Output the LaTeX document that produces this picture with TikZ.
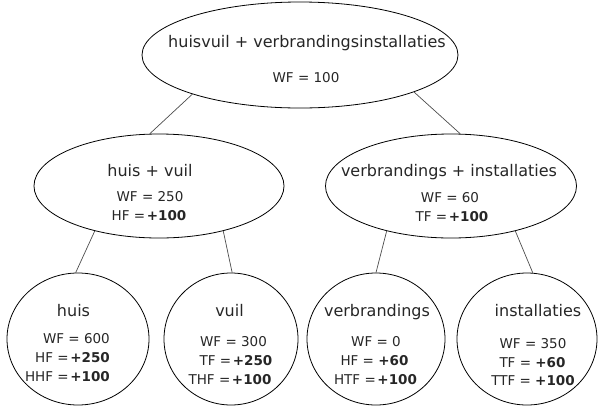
\documentclass[tikz,border=0pt]{standalone}
\usepackage{fontspec}
\setmainfont{DejaVu Sans}
\usetikzlibrary{shapes.geometric}
\newcommand{\eqp}{=\hspace{0.12em}}
\tikzset{
  oval/.style={draw=black, line width=0.8pt, ellipse, inner sep=0pt},
  edge/.style={draw=black!70, line width=0.7pt},
  ttl/.style={anchor=base, inner sep=0pt, font=\fontsize{16}{18}\selectfont, text=black!85},
  val/.style={anchor=base, inner sep=0pt, font=\fontsize{13.5}{15}\selectfont, text=black!85},
}
\begin{document}
\begin{tikzpicture}[x=1pt, y=-1pt]
\path[use as bounding box] (0,0) rectangle (598,408);
% shapes
\node[oval, minimum width=316pt, minimum height=106pt] (top) at (300,55) {};
\node[oval, minimum width=250pt, minimum height=104pt] (ml) at (159,186) {};
\node[oval, minimum width=251pt, minimum height=104pt] (mr) at (451,186) {};
\node[oval, minimum width=142pt, minimum height=132pt] (huis) at (78,339) {};
\node[oval, minimum width=134pt, minimum height=132pt] (vuil) at (231,339) {};
\node[oval, minimum width=138pt, minimum height=132pt] (verb) at (376,339) {};
\node[oval, minimum width=140pt, minimum height=132pt] (inst) at (527,339) {};
% connectors
\draw[edge] (top.200) -- (ml.100);
\draw[edge] (top.342) -- (mr.80);
\draw[edge] (ml.215) -- (huis.92);
\draw[edge] (ml.325) -- (vuil.89);
\draw[edge] (mr.215) -- (verb.90);
\draw[edge] (mr.325) -- (inst.85);
% texts top
\node[ttl] (t0) at (307,47) {huisvuil + verbrandingsinstallaties};
\node[val] (t0a) at (306,82) {WF = 100};
% middle left
\node[ttl] (t1) at (150,176) {huis + vuil};
\node[val] (t1a) at (150,201) {WF = 250};
\node[val] (t1b) at (149,220) {HF \eqp\textbf{+100}};
% middle right
\node[ttl] (t2) at (449,176) {verbrandings + installaties};
\node[val] (t2a) at (450,202) {WF = 60};
\node[val] (t2b) at (452,221) {TF \eqp\textbf{+100}};
% huis
\node[ttl] (t3) at (73.5,316) {huis};
\node[val, anchor=base east] (t3a) at (110,343) {WF = 600};
\node[val, anchor=base east] (t3b) at (110,362) {HF \eqp\textbf{+250}};
\node[val, anchor=base east] (t3c) at (110,381) {HHF \eqp\textbf{+100}};
% vuil
\node[ttl] (t4) at (229.5,316) {vuil};
\node[val] (t4a) at (233.5,346) {WF = 300};
\node[val] (t4b) at (236,365) {TF \eqp\textbf{+250}};
\node[val] (t4c) at (230,384) {THF \eqp\textbf{+100}};
% verbrandings
\node[ttl] (t5) at (377,316) {verbrandings};
\node[val] (t5a) at (376,346) {WF = 0};
\node[val] (t5b) at (374.5,365) {HF = \textbf{+60}};
\node[val] (t5c) at (375.5,384) {HTF \eqp\textbf{+100}};
% installaties
\node[ttl] (t6) at (538,316) {installaties};
\node[val] (t6a) at (533,348) {WF = 350};
\node[val] (t6b) at (532.5,367) {TF = \textbf{+60}};
\node[val] (t6c) at (533,385) {TTF = \textbf{+100}};
\end{tikzpicture}
\end{document}
